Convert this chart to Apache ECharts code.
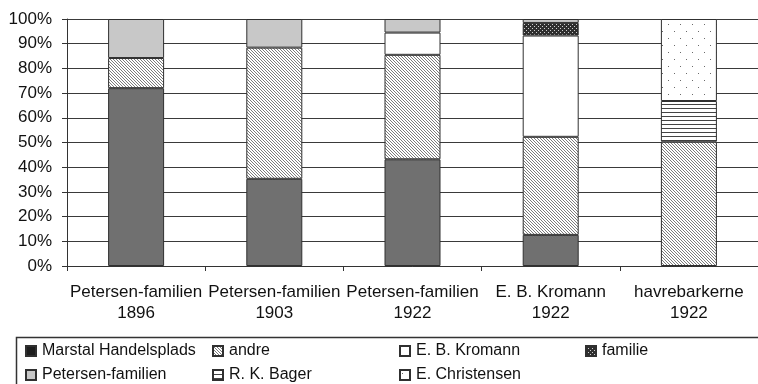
<!DOCTYPE html>
<html>
<head>
<meta charset="utf-8">
<script src="https://cdn.jsdelivr.net/npm/echarts@6/dist/echarts.min.js"></script>
<style>
  html, body { margin: 0; padding: 0; background: #fff; }
  #chart { width: 758px; height: 384px; }
</style>
</head>
<body>
<div id="chart"></div>
<script>
// Owners and their share (%) of each ship, stacked to 100 %
const ownerNames = ['Petersen-familien', 'Petersen-familien', 'Petersen-familien', 'E. B. Kromann', 'havrebarkerne'];
const ownerYears = ['1896', '1903', '1922', '1922', '1922'];

const marstalHandelsplads = [72, 35.3, 43.2, 12.6, null];
const andre               = [12.2, 53.1, 42.3, 39.7, 50.3];
const ebKromann           = [null, null, 9, 41, null];
const familie             = [null, null, null, 5.1, null];
const petersenFamilien    = [15.8, 11.6, 5.5, 1.6, null];
const rkBager             = [null, null, null, null, 16.5];
const eChristensen        = [null, null, null, null, 33.2];

const yTicks = [0, 10, 20, 30, 40, 50, 60, 70, 80, 90, 100];

const FONT = '"Liberation Sans", Arial, sans-serif';

// Small canvas tiles used as repeating fills
function tile(w, h, draw) {
  const c = document.createElement('canvas');
  c.width = w; c.height = h;
  const g = c.getContext('2d');
  g.fillStyle = '#fff';
  g.fillRect(0, 0, w, h);
  draw(g);
  return { image: c, repeat: 'repeat' };
}

const hatchFill = tile(3, 3, g => {
  g.fillStyle = '#7c7c7c';
  for (let i = 0; i < 3; i++) g.fillRect(i, i, 1, 1);
});
const stripeFill = tile(4, 4, g => {
  g.fillStyle = '#444';
  g.fillRect(0, 0, 4, 1);
});
const checkFill = tile(4, 4, g => {
  g.fillStyle = '#2e2e2e';
  g.fillRect(0, 0, 4, 4);
  g.fillStyle = '#cfcfcf';
  g.fillRect(0, 0, 1, 1);
  g.fillRect(2, 2, 1, 1);
});
const dotFill = tile(12, 14, g => {
  g.fillStyle = '#6a6a6a';
  g.fillRect(2, 3, 1, 1);
  g.fillRect(8, 10, 1, 1);
});

const seriesDefs = [
  { name: 'Marstal Handelsplads', data: marstalHandelsplads, color: '#707070', icon: '#1e1e1e' },
  { name: 'andre', data: andre, color: hatchFill },
  { name: 'E. B. Kromann', data: ebKromann, color: '#ffffff' },
  { name: 'familie', data: familie, color: checkFill },
  { name: 'Petersen-familien', data: petersenFamilien, color: '#c8c8c8' },
  { name: 'R. K. Bager', data: rkBager, color: stripeFill },
  { name: 'E. Christensen', data: eChristensen, color: dotFill }
];

// Legend laid out as a fixed two-row table
const legendSlots = [
  { left: 25, top: 343 }, { left: 212, top: 343 }, { left: 399, top: 343 }, { left: 585, top: 343 },
  { left: 25, top: 367 }, { left: 212, top: 367 }, { left: 399, top: 367 }
];

const chart = echarts.init(document.getElementById('chart'), null, { renderer: 'canvas' });

chart.setOption({
  backgroundColor: '#ffffff',
  animation: false,
  grid: { left: 67, top: 19, width: 695, height: 247, containLabel: false },
  xAxis: {
    type: 'category',
    data: ownerNames.map((n, i) => n + '\n' + ownerYears[i]),
    boundaryGap: true,
    axisLine: { show: true, lineStyle: { color: '#333', width: 1 } },
    axisTick: { show: true, length: 5, lineStyle: { color: '#333' } },
    axisLabel: {
      margin: 16, color: '#111', fontSize: 17, fontFamily: FONT, lineHeight: 21, interval: 0
    }
  },
  yAxis: {
    type: 'value',
    min: yTicks[0],
    max: yTicks[yTicks.length - 1],
    interval: 10,
    axisLine: { show: true, lineStyle: { color: '#333', width: 1 } },
    axisTick: { show: true, length: 5, lineStyle: { color: '#333' } },
    axisLabel: {
      margin: 15, color: '#111', fontSize: 17, fontFamily: FONT,
      formatter: v => v + '%'
    },
    splitLine: { show: true, lineStyle: { color: '#3a3a3a', width: 1 } }
  },
  legend: seriesDefs.map((s, i) => ({
    data: [s.icon ? { name: s.name, itemStyle: { color: s.icon } } : s.name],
    left: legendSlots[i].left,
    top: legendSlots[i].top,
    padding: 0,
    itemWidth: 10,
    itemHeight: 10,
    itemGap: 0,
    icon: 'rect',
    selectedMode: false,
    textStyle: { color: '#111', fontSize: 16, fontFamily: FONT, lineHeight: 16, padding: [0, 0, 0, 1] }
  })),
  graphic: [{
    type: 'rect',
    shape: { x: 16.5, y: 337.5, width: 760, height: 60 },
    style: { fill: 'none', stroke: '#333', lineWidth: 1.5 },
    silent: true
  }],
  series: seriesDefs.map(s => ({
    name: s.name,
    type: 'bar',
    stack: 'share',
    barWidth: 56,
    data: s.data,
    itemStyle: { color: s.color, borderColor: '#303030', borderWidth: 1 },
    emphasis: { disabled: true }
  }))
});
</script>
</body>
</html>
